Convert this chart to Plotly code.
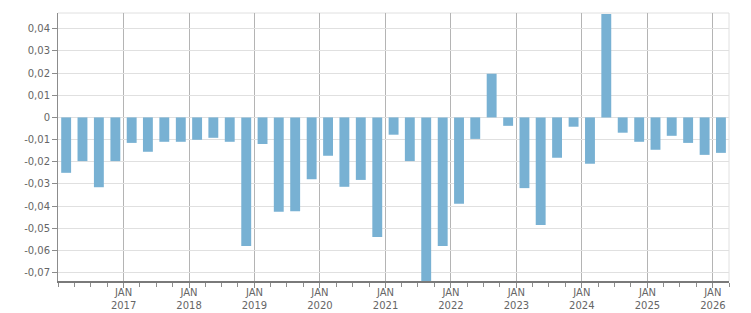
import plotly.graph_objects as go

quarters = [
    "2016-01-01", "2016-04-01", "2016-07-01", "2016-10-01",
    "2017-01-01", "2017-04-01", "2017-07-01", "2017-10-01",
    "2018-01-01", "2018-04-01", "2018-07-01", "2018-10-01",
    "2019-01-01", "2019-04-01", "2019-07-01", "2019-10-01",
    "2020-01-01", "2020-04-01", "2020-07-01", "2020-10-01",
    "2021-01-01", "2021-04-01", "2021-07-01", "2021-10-01",
    "2022-01-01", "2022-04-01", "2022-07-01", "2022-10-01",
    "2023-01-01", "2023-04-01", "2023-07-01", "2023-10-01",
    "2024-01-01", "2024-04-01", "2024-07-01", "2024-10-01",
    "2025-01-01", "2025-04-01", "2025-07-01", "2025-10-01",
    "2026-01-01",
]
values = [
    -0.0250, -0.0197, -0.0315, -0.0197,
    -0.0115, -0.0155, -0.0110, -0.0110,
    -0.0101, -0.0092, -0.0110, -0.0580,
    -0.0120, -0.0426, -0.0423, -0.0279,
    -0.0173, -0.0313, -0.0282, -0.0539,
    -0.0078, -0.0197, -0.0780, -0.0580,
    -0.0390, -0.0097, 0.0197, -0.0038,
    -0.0319, -0.0485, -0.0182, -0.0042,
    -0.0209, 0.0466, -0.0069, -0.0110,
    -0.0146, -0.0083, -0.0115, -0.0169,
    -0.0160,
]

x_tick_vals = ["2017-01-01", "2018-01-01", "2019-01-01", "2020-01-01", "2021-01-01",
               "2022-01-01", "2023-01-01", "2024-01-01", "2025-01-01", "2026-01-01"]
x_tick_text = ["JAN<br>2017", "JAN<br>2018", "JAN<br>2019", "JAN<br>2020", "JAN<br>2021",
               "JAN<br>2022", "JAN<br>2023", "JAN<br>2024", "JAN<br>2025", "JAN<br>2026"]
y_tick_vals = [-0.07, -0.06, -0.05, -0.04, -0.03, -0.02, -0.01, 0, 0.01, 0.02, 0.03, 0.04]
y_tick_text = ["-0,07", "-0,06", "-0,05", "-0,04", "-0,03", "-0,02", "-0,01", "0",
               "0,01", "0,02", "0,03", "0,04"]

fig = go.Figure(go.Bar(
    x=quarters, y=values,
    xperiod="M3", xperiod0="2016-01-01", xperiodalignment="middle",
    marker=dict(color="#78b1d3", line=dict(width=0)),
))

font = dict(family="DejaVu Sans", size=10, color="#666666")

fig.update_layout(
    width=751, height=313,
    margin=dict(l=58, r=22, t=13, b=32, pad=0),
    plot_bgcolor="white", paper_bgcolor="white",
    bargap=0.39, showlegend=False,
    font=font,
    xaxis=dict(
        type="date", automargin=False,
        range=["2016-01-01", "2026-04-01"],
        tickmode="array", tickvals=x_tick_vals, ticktext=x_tick_text,
        ticks="outside", ticklen=5, tickcolor="#8c8c8c",
        ticklabelstandoff=-4,
        showgrid=True, gridcolor="#b4b4b4", gridwidth=1,
        showline=True, linecolor="#7a7a7a", linewidth=2,
        minor=dict(dtick="M3", tick0="2016-01-01", ticks="outside", ticklen=4,
                   tickcolor="#8c8c8c", showgrid=False),
        tickfont=font, zeroline=False, fixedrange=True,
    ),
    yaxis=dict(
        automargin=False,
        range=[-0.0738, 0.0471],
        tickmode="array", tickvals=y_tick_vals, ticktext=y_tick_text,
        ticks="outside", ticklen=5, tickcolor="#8c8c8c",
        showgrid=True, gridcolor="#e0e0e0", gridwidth=1,
        showline=True, linecolor="#8c8c8c", linewidth=1,
        zeroline=False, tickfont=font, fixedrange=True,
    ),
    shapes=[
        dict(type="line", xref="paper", yref="paper", x0=0, x1=1, y0=1, y1=1,
             line=dict(color="#e0e0e0", width=1), layer="below"),
        dict(type="line", xref="paper", yref="paper", x0=1, x1=1, y0=0, y1=1,
             line=dict(color="#e0e0e0", width=1), layer="below"),
    ],
)

fig.write_html("out.html")
